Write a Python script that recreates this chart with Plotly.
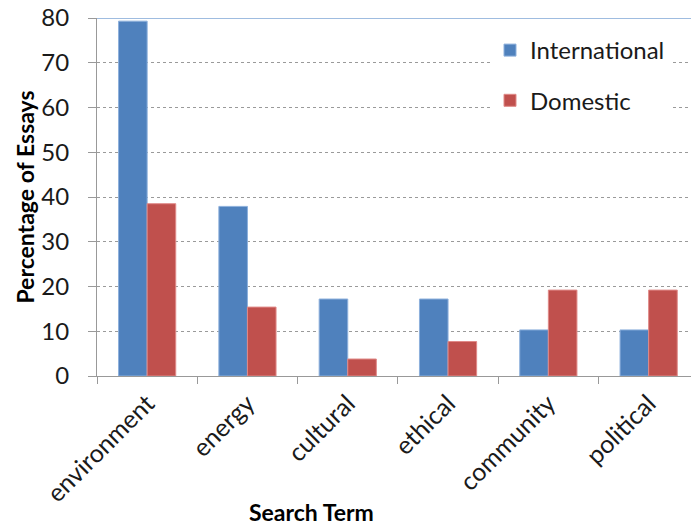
import plotly.graph_objects as go

# Share of essays mentioning each search term
terms = ["environment", "energy", "cultural", "ethical", "community", "political"]
international = [79.3, 37.9, 17.2, 17.2, 10.3, 10.3]
domestic = [38.5, 15.4, 3.8, 7.7, 19.2, 19.2]

W, H = 691, 529
L, R, T, B = 97, 0, 18, 153
plot_w = W - L - R
plot_h = H - T - B
cat_px = 100.3  # width of one category slot in pixels

fig = go.Figure()
fig.add_trace(go.Bar(
    x=terms, y=international, name="International", legendgroup="a",
    marker=dict(color="#4F81BD", line=dict(color="#8DB0DC", width=1)),
))
fig.add_trace(go.Bar(
    x=terms, y=domestic, name="Domestic", legendgroup="b",
    marker=dict(color="#C0504D", line=dict(color="#E08A88", width=1)),
))

font = "Lato, 'Open Sans', Arial, sans-serif"

fig.update_layout(
    width=W, height=H,
    margin=dict(l=L, r=R, t=T, b=B, pad=0),
    paper_bgcolor="white", plot_bgcolor="white",
    barmode="group", bargap=0.43, bargroupgap=0,
    font=dict(family=font, size=20, color="#1a1a1a"),
    showlegend=True,
    legend=dict(
        x=(490 - L) / plot_w, y=(376 - 28) / plot_h,
        xanchor="left", yanchor="top",
        bgcolor="white", borderwidth=0,
        font=dict(size=24, family=font, color="#1a1a1a"),
        traceorder="grouped", tracegroupgap=16,
        itemwidth=30,
    ),
    xaxis=dict(
        type="category",
        range=[-0.5, -0.5 + plot_w / cat_px],
        tickangle=-45,
        ticks="outside", ticklen=7, tickcolor="#999999", tickwidth=1,
        tickson="boundaries",
        ticklabelstandoff=2,
        showline=True, linecolor="#999999", linewidth=1,
        showgrid=False,
        tickfont=dict(size=25, family=font, color="#1a1a1a"),
    ),
    yaxis=dict(
        range=[0, 80], dtick=10,
        ticks="outside", ticklen=8, tickcolor="#999999",
        ticklabelstandoff=14,
        showline=True, linecolor="#999999", linewidth=1,
        showgrid=True, gridcolor="#9a9a9a", griddash="dot", gridwidth=1,
        zeroline=False,
        tickfont=dict(size=24, family=font, color="#1a1a1a"),
        title=dict(text="<b>Percentage of Essays</b>", standoff=0,
                   font=dict(size=23, family=font, color="#000000")),
    ),
)

# Top frame line at the maximum of the value axis
fig.add_shape(type="line", xref="paper", yref="y", x0=0, x1=1, y0=80, y1=80,
              line=dict(color="#7FA6D6", width=1.5))

# Category axis title
fig.add_annotation(
    text="<b>Search Term</b>", xref="paper", yref="paper",
    x=(311 - L) / plot_w, y=-(512 - 376) / plot_h,
    xanchor="center", yanchor="middle", showarrow=False,
    font=dict(size=23, family=font, color="#000000"),
)

fig.write_html("out.html")
